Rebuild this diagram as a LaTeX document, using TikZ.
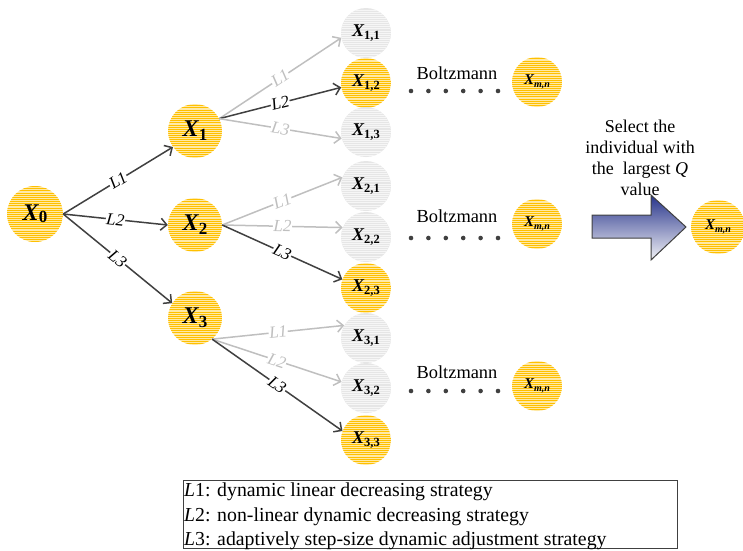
\documentclass[tikz,border=0pt]{standalone}
\usepackage{fontspec}
\setmainfont{Liberation Serif}
\usetikzlibrary{arrows.meta}

\definecolor{gold}{HTML}{FFC000}
\definecolor{paleyellow}{HTML}{FFE9A6}
\definecolor{palegray}{HTML}{E6E6E6}
\definecolor{stripegray}{HTML}{F6F6F6}
\definecolor{darkline}{HTML}{404040}
\definecolor{lightline}{HTML}{BFBFBF}
\definecolor{arrowblue}{HTML}{27348B}
\definecolor{arrowpale}{HTML}{F2F2F6}

\tikzset{
  % striped yellow ball (selected individual)
  yball/.style={circle, inner sep=0pt, minimum size=#1, fill=paleyellow,
    path picture={
      \foreach \k in {-14,...,14}{
        \pgfmathsetmacro\lw{0.35+1.4*(\k*\k/196)*(\k*\k/196)}
        \draw[gold, line width=\lw pt]
          ([yshift=\k*2.1pt]path picture bounding box.west) --
          ([yshift=\k*2.1pt]path picture bounding box.east);
      }}},
  % striped grey ball (discarded individual)
  gball/.style={circle, inner sep=0pt, minimum size=#1, fill=palegray,
    path picture={
      \foreach \k in {-14,...,14}{
        \draw[stripegray, line width=0.7pt]
          ([yshift=\k*2.1pt]path picture bounding box.west) --
          ([yshift=\k*2.1pt]path picture bounding box.east);
      }}},
  act/.style={draw=darkline, line width=1.5pt,
    -{Straight Barb[length=6pt,width=12pt,line width=1.5pt]}},
  inact/.style={draw=lightline, line width=1.5pt,
    -{Straight Barb[length=6pt,width=12pt,line width=1.5pt]}},
  lab/.style={font=\fontsize{17}{17}\selectfont\itshape, fill=white,
    inner sep=0.6pt, sloped, pos=0.5},
  glab/.style={lab, text=lightline},
  dotrow/.style={darkline},
  boltz/.style={font=\fontsize{18.4}{18.4}\selectfont, text=black},
}

% labels inside the balls
\newcommand\bigXsub[1]{{\fontsize{24}{24}\selectfont\bfseries\itshape X}\raisebox{-4pt}{\fontsize{17}{17}\selectfont\bfseries #1}}
\newcommand\midXsub[1]{{\fontsize{18}{18}\selectfont\bfseries\itshape X}\raisebox{-3pt}{\fontsize{12.5}{12.5}\selectfont\bfseries #1}}
\newcommand\smallXmn{{\fontsize{15}{15}\selectfont\bfseries\itshape X}\raisebox{-3pt}{\fontsize{10}{10}\selectfont\bfseries\itshape m,n}}

\begin{document}
\begin{tikzpicture}[x=1pt, y=-1pt]
\useasboundingbox (0,0) rectangle (743,550);

% root and first generation
\node[yball=56pt] (x0) at (35,214) {{\fontsize{24}{24}\selectfont\bfseries\itshape X}\raisebox{-2pt}{\fontsize{17}{17}\selectfont\bfseries 0}};
\node[yball=54pt] (x1) at (195,131) {\bigXsub{1}};
\node[yball=54pt] (x2) at (195,225) {\bigXsub{2}};
\node[yball=54pt] (x3) at (195,318) {\bigXsub{3}};

% second generation
\node[gball=50pt] (x11) at (366,33)  {\midXsub{1,1}};
\node[yball=50pt] (x12) at (366,83)  {\midXsub{1,2}};
\node[gball=50pt] (x13) at (366,132) {\midXsub{1,3}};
\node[gball=50pt] (x21) at (366,186) {\midXsub{2,1}};
\node[gball=50pt] (x22) at (366,237) {\midXsub{2,2}};
\node[yball=50pt] (x23) at (366,288) {\midXsub{2,3}};
\node[gball=50pt] (x31) at (366,338) {\midXsub{3,1}};
\node[gball=50pt] (x32) at (366,388) {\midXsub{3,2}};
\node[yball=50pt] (x33) at (366,440) {\midXsub{3,3}};

% edges from the root
\draw[act] (x0.east) -- node[lab] {L1} (x1.216);
\draw[act] (x0.east) -- node[lab] {L2} (x2.west);
\draw[act] (x0.east) -- node[lab] {L3} (x3.147);

% edges from X1
\draw[inact] (x1.27) -- node[glab] {L1} (x11.191);
\draw[act]   (x1.27) -- node[lab]  {L2} (x12.190);
\draw[inact] (x1.27) -- node[glab] {L3} (x13.195);

% edges from X2
\draw[inact] (x2.east) -- node[glab] {L1} (x21.160);
\draw[inact] (x2.east) -- node[glab] {L2} (x22.158);
\draw[act]   (x2.east) -- node[lab]  {L3} (x23.160);

% edges from X3
\draw[inact] (x3.-51) -- node[glab] {L1} (x31.150);
\draw[inact] (x3.-51) -- node[glab] {L2} (x32.166);
\draw[act]   (x3.-51) -- node[lab]  {L3} (x33.159);

% Boltzmann selection rows
\foreach \r/\dy/\ty/\my in {1/91/73/82, 2/238/216/224, 3/391/372/386}{
  \foreach \i in {0,...,5}
    \fill[dotrow] (411+\i*17.4,\dy) circle (2.3pt);
  \node[boltz] (b\r) at (457,\ty) {Boltzmann};
  \node[yball=50pt] (m\r) at (537,\my) {\smallXmn};
}

% final choice
\node[align=center, font=\fontsize{18}{21}\selectfont] (sel) at (640,158)
  {Select the\\individual with\\the\ \ largest \textit{Q}\\value};
\shade[top color=arrowblue, bottom color=arrowpale, draw=darkline, line width=1pt]
  (592,215) -- (651,215) -- (651,195) -- (686,227) -- (651,260) -- (651,238) -- (592,238) -- cycle;
\node[yball=54pt] (best) at (718,227) {\smallXmn};

% legend
\node[draw=darkline, line width=1.3pt, minimum width=494pt, minimum height=68pt,
  anchor=north west, inner sep=0pt] (legend) at (183,480) {};
\begin{scope}[every node/.style={anchor=base west, inner sep=0pt, font=\fontsize{19.8}{19.8}\selectfont}]
  \node (l1) at (184,496) {\textit{L}1: dynamic linear decreasing strategy};
  \node (l2) at (184,521) {\textit{L}2: non-linear dynamic decreasing strategy};
  \node (l3) at (184,545) {\textit{L}3: adaptively step-size dynamic adjustment strategy};
\end{scope}
\end{tikzpicture}
\end{document}
